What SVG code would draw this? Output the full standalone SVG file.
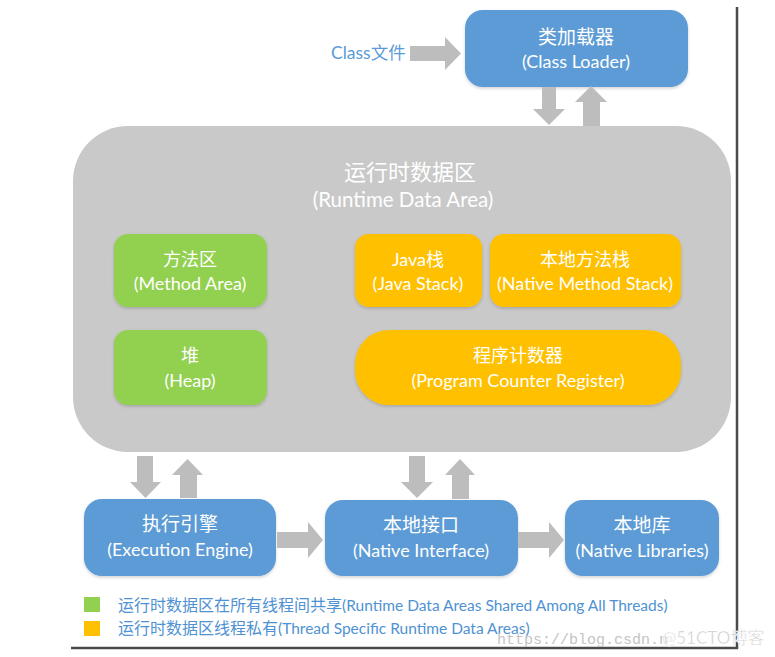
<svg xmlns="http://www.w3.org/2000/svg" width="775" height="657" viewBox="0 0 775 657">
<defs>
<style>
.blue{fill:#5b9bd5}
.green{fill:#92d050}
.orange{fill:#ffc000}
.arr{fill:#bdbdbd}
.t{font-family:Lato,"Noto Sans CJK SC",sans-serif;fill:#ffffff;text-anchor:middle}
.zh{font-size:18px}
.en{font-size:18px}
.lg{font-family:Lato,"Noto Sans CJK SC",sans-serif;font-size:15.5px;fill:#4f92d3}
.lz{font-size:16px}
</style>
<filter id="sh" x="-10%" y="-10%" width="120%" height="130%">
<feDropShadow dx="0" dy="1.5" stdDeviation="1.5" flood-color="#000" flood-opacity="0.18"/>
</filter>
</defs>
<rect width="775" height="657" fill="#ffffff"/>
<g id="frame" stroke="#4a4a4a" stroke-width="2.5" fill="none">
<line x1="737" y1="7" x2="737" y2="649"/>
<line x1="71" y1="648" x2="738" y2="648"/>
</g>
<g id="runtime-data-area">
<rect x="73" y="126" width="658" height="326" rx="55" fill="#c9c9c9"/>
<text class="t" x="410" y="180" font-size="22px">运行时数据区</text>
<text class="t" x="403" y="207" font-size="20.5px">(Runtime Data Area)</text>
</g>
<g id="class-loader">
<rect class="blue" x="465" y="10" width="223" height="77" rx="18" filter="url(#sh)"/>
<text class="t" x="576" y="44" font-size="19px">类加载器</text>
<text class="t" x="576" y="68" font-size="18px">(Class Loader)</text>
</g>
<g id="class-file">
<text x="331" y="59" font-family="Lato,'Noto Sans CJK SC',sans-serif" font-size="17.5px" fill="#5b9bd5">Class文件</text>
</g>
<g id="method-area">
<rect class="green" x="114" y="234" width="153" height="73" rx="14" filter="url(#sh)"/>
<text class="t zh" x="190" y="266">方法区</text>
<text class="t en" x="190" y="290">(Method Area)</text>
</g>
<g id="heap">
<rect class="green" x="114" y="330" width="153" height="75" rx="14" filter="url(#sh)"/>
<text class="t zh" x="190" y="362">堆</text>
<text class="t en" x="190" y="387">(Heap)</text>
</g>
<g id="java-stack">
<rect class="orange" x="355" y="234" width="127" height="73" rx="14" filter="url(#sh)"/>
<text class="t zh" x="418" y="266">Java栈</text>
<text class="t en" x="418" y="290">(Java Stack)</text>
</g>
<g id="native-method-stack">
<rect class="orange" x="490" y="234" width="191" height="73" rx="14" filter="url(#sh)"/>
<text class="t zh" x="585" y="266">本地方法栈</text>
<text class="t en" x="585" y="290">(Native Method Stack)</text>
</g>
<g id="program-counter">
<rect class="orange" x="355" y="330" width="326" height="75" rx="34" filter="url(#sh)"/>
<text class="t zh" x="518" y="362">程序计数器</text>
<text class="t en" x="518" y="387">(Program Counter Register)</text>
</g>
<g id="execution-engine">
<rect class="blue" x="84" y="499" width="192" height="77" rx="18" filter="url(#sh)"/>
<text class="t" x="180" y="531" font-size="19px">执行引擎</text>
<text class="t en" x="180" y="556">(Execution Engine)</text>
</g>
<g id="native-interface">
<rect class="blue" x="325" y="500" width="193" height="76" rx="18" filter="url(#sh)"/>
<text class="t" x="421" y="532" font-size="19px">本地接口</text>
<text class="t en" x="421" y="557">(Native Interface)</text>
</g>
<g id="native-libraries">
<rect class="blue" x="565" y="500" width="154" height="76" rx="18" filter="url(#sh)"/>
<text class="t" x="642" y="532" font-size="19px">本地库</text>
<text class="t en" x="642" y="557">(Native Libraries)</text>
</g>
<g id="connectors" class="arr">
<polygon points="410,46 445,46 445,37 461,53.5 445,70 445,61 410,61"/>
<polygon points="542,87 556,87 556,109 565,109 549,125 533,109 542,109"/>
<polygon points="583,126 600,126 600,102 607,102 591,86 575,102 583,102"/>
<polygon points="137,456 153,456 153,482 161,482 145.5,498 130,482 137,482"/>
<polygon points="180,498 197,498 197,475 203,475 187.5,459 172,475 180,475"/>
<polygon points="409,456 425,456 425,482 433,482 417,498 401,482 409,482"/>
<polygon points="452,499 469,499 469,475 475,475 460,459 445,475 452,475"/>
<polygon points="277,532 308,532 308,522 323,540 308,558 308,548 277,548"/>
<polygon points="518,532 549,532 549,522 564,540 549,558 549,548 518,548"/>
</g>
<g id="legend">
<rect x="84" y="597" width="16" height="15" fill="#92d050"/>
<rect x="84" y="621" width="16" height="15" fill="#ffc000"/>
<text class="lg" x="118" y="611"><tspan class="lz">运行时数据区在所有线程间共享</tspan>(Runtime Data Areas Shared Among All Threads)</text>
<text class="lg" x="118" y="634"><tspan class="lz">运行时数据区线程私有</tspan>(Thread Specific Runtime Data Areas)</text>
</g>
<g id="watermark">
<text x="497" y="644" font-family="'Liberation Mono',monospace" font-size="15px" fill="#c4c4c4">https://blog.csdn.n</text>
<text x="662" y="644" font-family="Lato,'Noto Sans CJK SC',sans-serif" font-size="17px" fill="#c4c4c4" stroke="#ffffff" stroke-width="0.6">@51CTO博客</text>
</g>
</svg>
